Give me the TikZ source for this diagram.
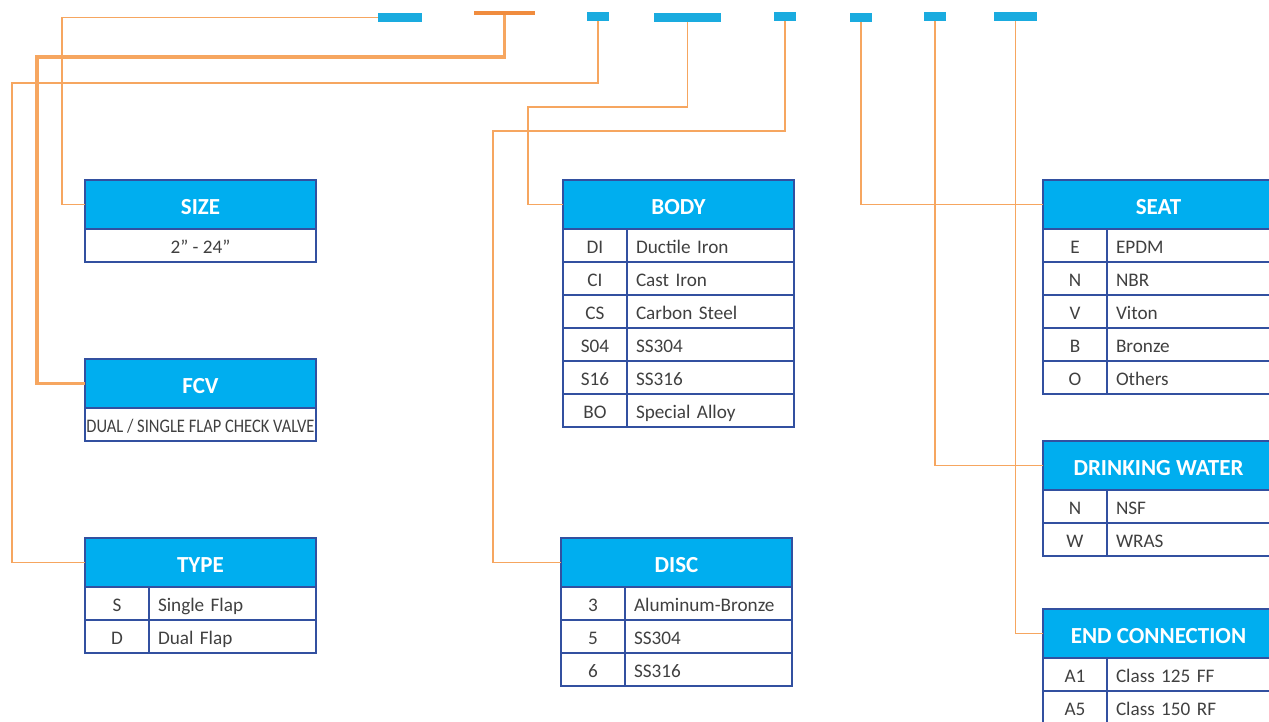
\documentclass[tikz,border=0pt]{standalone}
\usepackage{fontspec}
\setmainfont{Carlito}
\definecolor{headblue}{RGB}{0,174,239}
\definecolor{barblue}{RGB}{26,171,223}
\definecolor{tabline}{RGB}{50,80,160}
\definecolor{rowgrey}{RGB}{64,64,64}
\definecolor{leadorange}{RGB}{246,166,96}
\definecolor{teeorange}{RGB}{240,140,62}
\newcommand\headfont{\fontsize{23}{27}\selectfont\bfseries}
\newcommand\rowfont{\fontsize{19.2}{22}\selectfont}
\begin{document}
\begin{tikzpicture}[x=1pt,y=-1pt,
        cell/.style={draw=tabline,line width=1.2pt,outer sep=0pt,inner sep=0pt,
           anchor=north west,minimum height=33pt,text height=15pt,text depth=0pt,
           font=\rowfont,text=rowgrey},
        code/.style={cell,minimum width=64pt},
        desc/.style={cell,minimum width=167pt,text width=149pt,inner xsep=9pt,align=left},
        wide/.style={cell,minimum width=231pt},
        head/.style={cell,fill=headblue,minimum width=231pt,minimum height=49pt,
           text height=19pt,font=\headfont,text=white},
        topbar/.style={fill=barblue,inner sep=0pt,outer sep=0pt,anchor=north west,
           minimum height=9pt},
        lead/.style={draw=leadorange,line width=1.8pt},
        main lead/.style={lead,line width=3.6pt},
    ]
    \useasboundingbox (0,0) rectangle (1269,721);
    \clip (0,0) rectangle (1269,721);
    \node[topbar,minimum width=44pt] (b1) at (378,13) {};
    \node[topbar,fill=teeorange,minimum width=61pt,minimum height=4pt] (tee) at (474,11) {};
    \node[topbar,minimum width=22pt] (b3) at (587,12) {};
    \node[topbar,minimum width=67pt] (b4) at (654,13) {};
    \node[topbar,minimum width=22pt] (b5) at (774,12) {};
    \node[topbar,minimum width=22pt] (b6) at (850,13) {};
    \node[topbar,minimum width=22pt] (b7) at (924,12) {};
    \node[topbar,minimum width=43pt] (b8) at (994,12) {};

    \node[head] (size) at (85,180) {SIZE};
    \node[wide] (size1) at (size.south west) {2” - 24”};

    \node[head] (fcv) at (85,359) {FCV};
    \node[wide] (fcv1) at (fcv.south west)
        {\scalebox{0.86}[1]{DUAL / SINGLE FLAP CHECK VALVE}};

    \node[head] (type) at (85,538) {TYPE};
    \node[code] (type1) at (type.south west) {S};
    \node[desc] (type1d) at (type1.north east) {Single Flap};
    \node[code] (type2) at (type1.south west) {D};
    \node[desc] (type2d) at (type2.north east) {Dual Flap};

    \node[head] (body) at (563,180) {BODY};
    \node[code] (body1) at (body.south west) {DI};
    \node[desc] (body1d) at (body1.north east) {Ductile Iron};
    \node[code] (body2) at (body1.south west) {CI};
    \node[desc] (body2d) at (body2.north east) {Cast Iron};
    \node[code] (body3) at (body2.south west) {CS};
    \node[desc] (body3d) at (body3.north east) {Carbon Steel};
    \node[code] (body4) at (body3.south west) {S04};
    \node[desc] (body4d) at (body4.north east) {SS304};
    \node[code] (body5) at (body4.south west) {S16};
    \node[desc] (body5d) at (body5.north east) {SS316};
    \node[code] (body6) at (body5.south west) {BO};
    \node[desc] (body6d) at (body6.north east) {Special Alloy};

    \node[head] (disc) at (561,538) {DISC};
    \node[code] (disc1) at (disc.south west) {3};
    \node[desc] (disc1d) at (disc1.north east) {Aluminum-Bronze};
    \node[code] (disc2) at (disc1.south west) {5};
    \node[desc] (disc2d) at (disc2.north east) {SS304};
    \node[code] (disc3) at (disc2.south west) {6};
    \node[desc] (disc3d) at (disc3.north east) {SS316};

    \node[head] (seat) at (1043,180) {SEAT};
    \node[code] (seat1) at (seat.south west) {E};
    \node[desc] (seat1d) at (seat1.north east) {EPDM};
    \node[code] (seat2) at (seat1.south west) {N};
    \node[desc] (seat2d) at (seat2.north east) {NBR};
    \node[code] (seat3) at (seat2.south west) {V};
    \node[desc] (seat3d) at (seat3.north east) {Viton};
    \node[code] (seat4) at (seat3.south west) {B};
    \node[desc] (seat4d) at (seat4.north east) {Bronze};
    \node[code] (seat5) at (seat4.south west) {O};
    \node[desc] (seat5d) at (seat5.north east) {Others};

    \node[head] (water) at (1043,441) {DRINKING WATER};
    \node[code] (water1) at (water.south west) {N};
    \node[desc] (water1d) at (water1.north east) {NSF};
    \node[code] (water2) at (water1.south west) {W};
    \node[desc] (water2d) at (water2.north east) {WRAS};

    \node[head] (endc) at (1043,609) {END CONNECTION};
    \node[code] (endc1) at (endc.south west) {A1};
    \node[desc] (endc1d) at (endc1.north east) {Class 125 FF};
    \node[code] (endc2) at (endc1.south west) {A5};
    \node[desc] (endc2d) at (endc2.north east) {Class 150 RF};

    \draw[lead]
        (b1.west) -| ([xshift=-23pt]size.west) -- (size.west)
        (b3.south) -- ++(0,62) -| ([xshift=-73pt]type.west) -- (type.west)
        (b4.south) -- ++(0,85) -| ([xshift=-35pt]body.west) -- (body.west)
        (b5.south) -- ++(0,110) -| ([xshift=-68pt]disc.west) -- (disc.west)
        (b6.south) |- (seat.west)
        (b7.south) |- (water.west)
        (b8.south) |- (endc.west)
        ;
    \draw[main lead]
        (tee.south) -- ++(0,42) -| ([xshift=-48pt]fcv.west) -- (fcv.west);
\end{tikzpicture}
\end{document}
